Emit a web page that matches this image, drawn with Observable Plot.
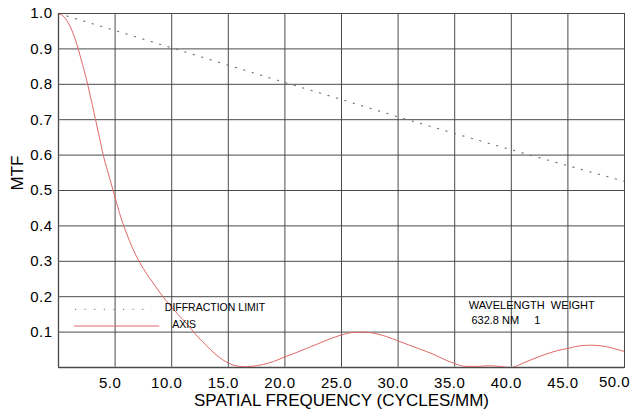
<!DOCTYPE html>
<html>
<head>
<meta charset="utf-8">
<script src="https://cdn.jsdelivr.net/npm/d3@7"></script>
<script src="https://cdn.jsdelivr.net/npm/@observablehq/plot@0.6"></script>
<style>
  html, body { margin: 0; padding: 0; background: #fff; }
  #chart svg { font-family: "Liberation Sans", Arial, sans-serif; }
  g[aria-label="x-axis tick label"] text, g[aria-label="y-axis tick label"] text { letter-spacing: 0.5px; }
</style>
</head>
<body>
<div id="chart"></div>
<script>
// Spatial frequency (cycles/mm) and MTF of the on-axis field
const axisFreq = [0, 0.5, 1, 1.5, 2, 2.5, 3, 3.5, 4, 4.5, 5, 5.5, 6, 6.5, 7, 7.5, 8, 8.5, 9, 9.5, 10, 10.5, 11, 11.5, 12, 12.5, 13, 13.5, 14, 14.5, 15, 15.5, 16, 16.5, 17, 18, 19, 20, 21, 22, 23, 24, 25, 26, 27, 28, 29, 30, 31, 32, 33, 34, 35, 36, 37, 38, 39, 40, 41, 42, 43, 44, 45, 46, 47, 48, 49, 50];
const axisMtf  = [1.0, 0.99, 0.965, 0.925, 0.87, 0.81, 0.74, 0.667, 0.594, 0.537, 0.48, 0.425, 0.38, 0.34, 0.307, 0.279, 0.255, 0.232, 0.21, 0.189, 0.17, 0.152, 0.135, 0.117, 0.098, 0.08, 0.064, 0.048, 0.034, 0.022, 0.013, 0.006, 0.003, 0.002, 0.003, 0.008, 0.017, 0.03, 0.042, 0.055, 0.068, 0.081, 0.092, 0.099, 0.1, 0.096, 0.087, 0.075, 0.063, 0.051, 0.039, 0.024, 0.011, 0.003, 0.003, 0.005, 0.003, 0.0, 0.012, 0.025, 0.037, 0.047, 0.054, 0.061, 0.063, 0.061, 0.054, 0.045];

// Diffraction limit
const diffFreq = [0, 5, 10, 15, 20, 25, 30, 35, 40, 45, 50];
const diffMtf  = [1.0, 0.952, 0.903, 0.854, 0.805, 0.757, 0.708, 0.661, 0.615, 0.570, 0.526];

// Tick values
const xTicks = [5, 10, 15, 20, 25, 30, 35, 40, 45];
const xLastTick = [50];
const yTicks = [0.1, 0.2, 0.3, 0.4, 0.5, 0.6, 0.7, 0.8, 0.9, 1.0];
const xGrid = [5, 10, 15, 20, 25, 30, 35, 40, 45, 50];

const xTitle = "SPATIAL FREQUENCY (CYCLES/MM)";
const yTitle = "MTF";
const legendNames = ["DIFFRACTION LIMIT", "AXIS"];
const infoHeader = "WAVELENGTH  WEIGHT";
const infoWave = "632.8 NM";
const infoWeight = "1";

const axisData = axisFreq.map((f, i) => ({f, m: axisMtf[i]}));
const diffData = diffFreq.map((f, i) => ({f, m: diffMtf[i]}));

const red = "#e06868";
const gridColor = "#4a4a4a";
const ink = "#000";

const chart = Plot.plot({
  width: 630,
  height: 416,
  marginLeft: 58,
  marginRight: 6,
  marginTop: 13,
  marginBottom: 49,
  x: {domain: [0, 50]},
  y: {domain: [0, 1]},
  style: {background: "#fff", color: ink},
  marks: [
    Plot.ruleX(xGrid, {stroke: gridColor, strokeWidth: 1}),
    Plot.ruleY(yTicks, {stroke: gridColor, strokeWidth: 1}),
    Plot.ruleY([0], {stroke: "#aaa", strokeWidth: 2}),
    Plot.ruleX([0], {stroke: "#888", strokeWidth: 1.5}),
    Plot.line(diffData, {x: "f", y: "m", stroke: "#777", strokeWidth: 1.2, strokeDasharray: "1.2,7.6"}),
    Plot.line(axisData, {x: "f", y: "m", stroke: red, strokeWidth: 1, curve: "monotone-x"}),
    // legend
    Plot.ruleY([0.164], {x1: 1.5, x2: 8.3, stroke: "#888", strokeWidth: 1.2, strokeDasharray: "1.2,8.4"}),
    Plot.ruleY([0.1172], {x1: 1.41, x2: 8.95, stroke: "#e06868", strokeWidth: 1}),
    Plot.text([legendNames[0]], {x: 9.39, y: 0.1686, text: d => d, textAnchor: "start", fontSize: 10.5, fill: ink}),
    Plot.text([legendNames[1]], {x: 10.04, y: 0.121, text: d => d, textAnchor: "start", fontSize: 10.5, fill: ink}),
    Plot.text([infoHeader], {x: 36.25, y: 0.175, text: d => d, textAnchor: "start", fontSize: 11, fill: ink}),
    Plot.text([infoWave], {x: 36.48, y: 0.133, text: d => d, textAnchor: "start", fontSize: 11, fill: ink}),
    Plot.text([infoWeight], {x: 42.3, y: 0.133, text: d => d, textAnchor: "middle", fontSize: 11, fill: ink}),
    // axes
    Plot.axisY({ticks: yTicks, tickSize: 0, tickPadding: 6, tickFormat: d => d.toFixed(1), fontSize: 15, label: null}),
    Plot.axisX({ticks: xTicks, tickSize: 0, tickPadding: 10, dx: -5, tickFormat: d => d.toFixed(1), fontSize: 15, label: null}),
    Plot.axisX({ticks: xLastTick, tickSize: 0, tickPadding: 9, dx: -10, tickFormat: d => d.toFixed(1), fontSize: 15, label: null}),
    Plot.text([xTitle], {frameAnchor: "bottom", dy: 38.7, text: d => d, fontSize: 17, fill: ink}),
    Plot.text([yTitle], {frameAnchor: "left", dx: -41.3, rotate: -90, text: d => d, fontSize: 17, fill: ink}),
    Plot.frame({stroke: gridColor, strokeWidth: 1})
  ]
});
document.getElementById("chart").appendChild(chart);
</script>
</body>
</html>
